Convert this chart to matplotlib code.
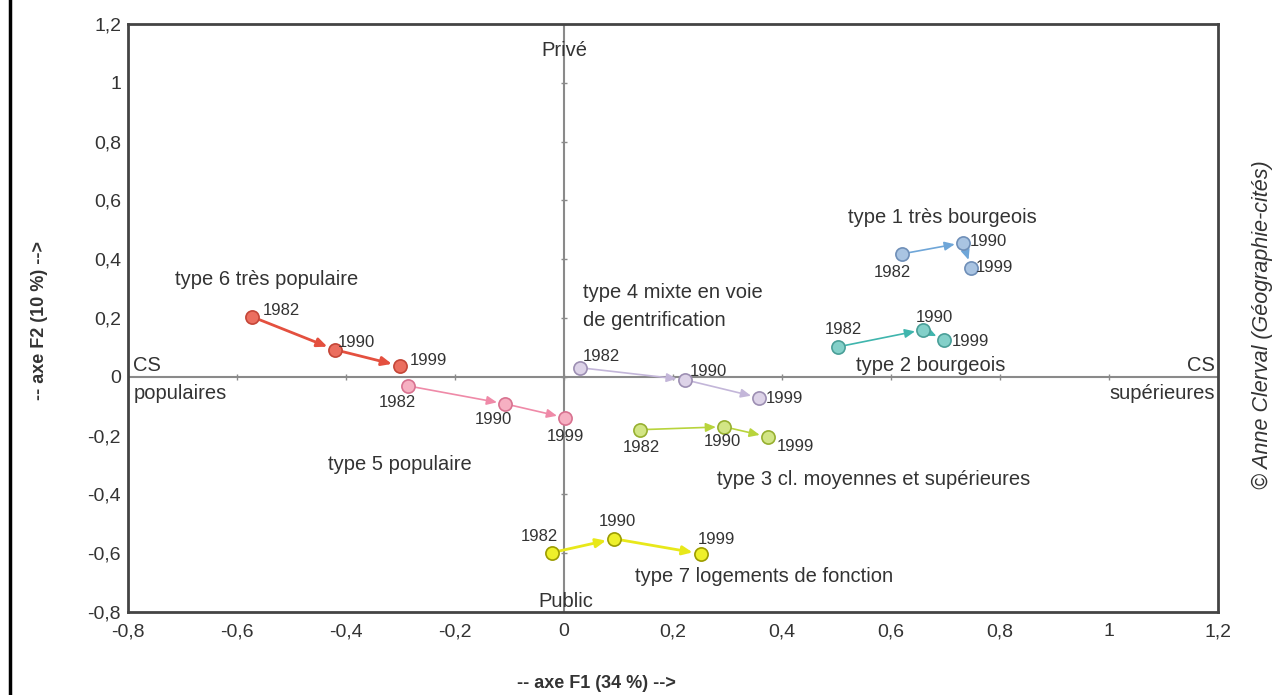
import matplotlib.pyplot as plt
from matplotlib.lines import Line2D

plt.rcParams['font.family'] = ['Liberation Sans', 'DejaVu Sans']

# Données : coordonnées factorielles (F1, F2) pour 1982, 1990, 1999
annees = ["1982", "1990", "1999"]
type1_f1 = [0.620, 0.732, 0.747]
type1_f2 = [0.418, 0.456, 0.371]
type2_f1 = [0.503, 0.659, 0.697]
type2_f2 = [0.102, 0.160, 0.126]
type3_f1 = [0.139, 0.294, 0.374]
type3_f2 = [-0.180, -0.170, -0.204]
type4_f1 = [0.029, 0.222, 0.358]
type4_f2 = [0.031, -0.010, -0.071]
type5_f1 = [-0.286, -0.108, 0.002]
type5_f2 = [-0.031, -0.092, -0.139]
type6_f1 = [-0.572, -0.420, -0.301]
type6_f2 = [0.204, 0.092, 0.037]
type7_f1 = [-0.022, 0.092, 0.251]
type7_f2 = [-0.598, -0.551, -0.602]

noms_types = ["type 1 très bourgeois", "type 2 bourgeois",
              "type 3 cl. moyennes et supérieures",
              "type 4 mixte en voie\nde gentrification",
              "type 5 populaire", "type 6 très populaire",
              "type 7 logements de fonction"]

graduations = [-0.8, -0.6, -0.4, -0.2, 0, 0.2, 0.4, 0.6, 0.8, 1, 1.2]
graduations_y = [-0.8, -0.6, -0.4, -0.2, 0, 0.2, 0.4, 0.6, 0.8, 1, 1.2]

# Styles : (remplissage, contour, flèche, épaisseur flèche)
styles = [
    ("#a9c4e2", "#6f8fb8", "#6fa6d8", 1.2),
    ("#83d0c9", "#4a9f98", "#3fb5ad", 1.2),
    ("#d2e585", "#97b030", "#b8d43c", 1.2),
    ("#ddd3e8", "#9d8fb3", "#c3b6d9", 1.2),
    ("#f6b0c2", "#d87290", "#ef8aa8", 1.2),
    ("#eb6e5f", "#c44638", "#e4503f", 2.0),
    ("#eef02a", "#9c9c00", "#e8e81a", 2.0),
]

# positions des noms de types (coordonnées du graphique)
pos_noms = [(0.521, 0.541), (0.536, 0.037), (0.281, -0.350), (0.035, 0.238),
            (-0.433, -0.299), (-0.714, 0.330), (0.130, -0.680)]

# décalages des étiquettes d'années (pixels) et alignement
decal_annees = [
    [(-10, -19, "center"), (7, 1, "left"), (5, 0, "left")],
    [(5, 17, "center"), (11, 12, "center"), (8, -2, "left")],
    [(2, -18, "center"), (-2, -15, "center"), (9, -10, "left")],
    [(3, 11, "left"), (5, 8, "left"), (7, -1, "left")],
    [(-11, -17, "center"), (-12, -16, "center"), (0, -19, "center")],
    [(10, 6, "left"), (3, 7, "left"), (10, 5, "left")],
    [(-13, 16, "center"), (3, 17, "center"), (16, 14, "center")],
]

series = [(type1_f1, type1_f2), (type2_f1, type2_f2), (type3_f1, type3_f2),
          (type4_f1, type4_f2), (type5_f1, type5_f2), (type6_f1, type6_f2),
          (type7_f1, type7_f2)]

gris_texte = "#333333"

fig = plt.figure(figsize=(12.87, 6.95), dpi=100)
ax = fig.add_axes([128 / 1287, 1 - 612 / 695, 1090 / 1287, 588 / 695])
ax.set_xlim(-0.8, 1.2)
ax.set_ylim(-0.8, 1.2)

# axes du plan factoriel
ax.axhline(0, color="#8a8a8a", lw=1.5, zorder=1)
ax.axvline(0, color="#8a8a8a", lw=1.5, zorder=1)
ax.plot(graduations, [0] * len(graduations), "|", ms=5, color="#8a8a8a", zorder=1)
ax.plot([0] * len(graduations_y), graduations_y, "_", ms=5, color="#8a8a8a", zorder=1)

for i, (f1, f2) in enumerate(series):
    fc, ec, ac, lw = styles[i]
    for j in range(len(f1) - 1):
        ax.annotate("", xy=(f1[j + 1], f2[j + 1]), xytext=(f1[j], f2[j]),
                    arrowprops=dict(arrowstyle="-|>,head_length=0.5,head_width=0.22",
                                    color=ac, lw=lw, shrinkA=5, shrinkB=6,
                                    mutation_scale=12),
                    zorder=2)
    ax.plot(f1, f2, "o", ms=9.5, mfc=fc, mec=ec, mew=1.2, ls="none", zorder=3)
    for j, an in enumerate(annees):
        dx, dy, ha = decal_annees[i][j]
        ax.annotate(an, (f1[j], f2[j]), xytext=(dx, dy), textcoords="offset pixels",
                    ha=ha, va="center", fontsize=12, color=gris_texte, zorder=4)
    nx, ny = pos_noms[i]
    ax.text(nx, ny, noms_types[i], ha="left", va="center", fontsize=14.5,
            color=gris_texte, linespacing=1.6)

# étiquettes des pôles
ax.text(0.0, 1.11, "Privé", ha="center", va="center", fontsize=14.5, color=gris_texte)
ax.text(0.003, -0.763, "Public", ha="center", va="center", fontsize=14.5, color=gris_texte)
ax.text(-0.79, 0.04, "CS", ha="left", va="center", fontsize=14.5, color=gris_texte)
ax.text(-0.79, -0.058, "populaires", ha="left", va="center", fontsize=14.5, color=gris_texte)
ax.text(1.194, 0.04, "CS", ha="right", va="center", fontsize=14.5, color=gris_texte)
ax.text(1.194, -0.058, "supérieures", ha="right", va="center", fontsize=14.5, color=gris_texte)

ax.set_xticks(graduations)
ax.set_yticks(graduations_y)
ax.set_xticklabels([f"{v:g}".replace(".", ",") for v in graduations])
ax.set_yticklabels([f"{v:g}".replace(".", ",") for v in graduations_y])
ax.tick_params(axis="both", length=0, labelsize=14, labelcolor=gris_texte)
ax.tick_params(axis="x", pad=8)
ax.tick_params(axis="y", pad=5)
for s in ax.spines.values():
    s.set_color("#444444")
    s.set_linewidth(2)

fig.text(596 / 1287, 1 - 683 / 695, "-- axe F1 (34 %) -->", ha="center", va="center",
         fontsize=13, fontweight="bold", color=gris_texte)
fig.text(40 / 1287, 1 - 320 / 695, "-- axe F2 (10 %) -->", ha="center", va="center",
         rotation=90, fontsize=13, fontweight="bold", color=gris_texte)
fig.text(1262 / 1287, 1 - 325 / 695, "© Anne Clerval (Géographie-cités)", ha="center",
         va="center", rotation=90, fontsize=15.5, style="italic", color=gris_texte)

# trait de cadre à gauche
fig.add_artist(Line2D([10 / 1287, 10 / 1287], [0, 1], color="black", lw=2.5))

fig.savefig("out.png", dpi=100)
